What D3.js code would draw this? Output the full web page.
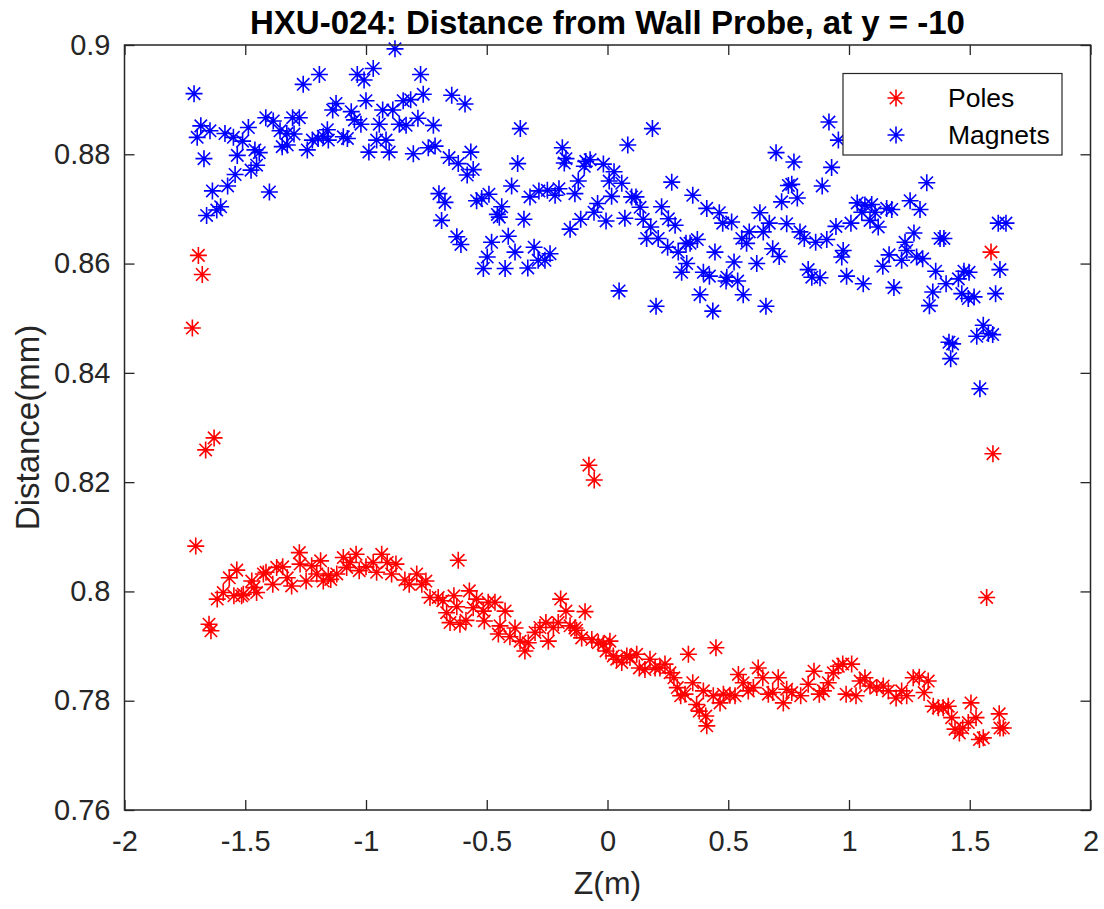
<!DOCTYPE html>
<html>
<head>
<meta charset="utf-8">
<script src="https://cdn.jsdelivr.net/npm/d3@7"></script>
<style>
  html, body { margin: 0; padding: 0; background: #fff; }
  svg { display: block; font-family: "Liberation Sans", Arial, Helvetica, sans-serif; }
</style>
</head>
<body>
<svg id="chart" width="1104" height="909"></svg>
<script>
// ---------------- data ----------------
const titleText = "HXU-024: Distance from Wall Probe, at y = -10";
const xLabelText = "Z(m)";
const yLabelText = "Distance(mm)";
const seriesNames = ["Poles", "Magnets"];

const xTicks = [-2, -1.5, -1, -0.5, 0, 0.5, 1, 1.5, 2];
const xTickLabels = ["-2", "-1.5", "-1", "-0.5", "0", "0.5", "1", "1.5", "2"];
const yTicks = [0.76, 0.78, 0.80, 0.82, 0.84, 0.86, 0.88, 0.90];
const yTickLabels = ["0.76", "0.78", "0.8", "0.82", "0.84", "0.86", "0.88", "0.9"];

const polesZ = [
  -1.719, -1.694, -1.678, -1.629, -1.664, -1.705, -1.650, -1.642, -0.077, -0.055, 1.588, 1.596, 1.570,
  -1.616, -1.591, -1.566, -1.535, -1.547, -1.515, -1.508, -1.473, -1.464, -1.453, -1.425, -1.414,
  -1.386, -1.370, -1.345, -1.326, -1.308, -1.276, -1.273, -1.248, -1.225, -1.204, -1.188, -1.177,
  -1.156, -1.146, -1.121, -1.094, -1.080, -1.066, -1.041, -1.028, -1.000, -0.970, -0.956, -0.935,
  -0.912, -0.894, -0.876, -0.839, -0.821, -0.790, -0.769, -0.752, -0.735, -0.701, -0.682, -0.666,
  -0.652, -0.636, -0.624, -0.618, -0.611, -0.586, -0.572, -0.556, -0.542, -0.514, -0.510, -0.494,
  -0.466, -0.445, -0.424, -0.452, -0.404, -0.383, -0.362, -0.342, -0.328, -0.300, -0.280, -0.255,
  -0.245, -0.224, -0.204, -0.194, -0.172, -0.155, -0.135, -0.128, -0.107, -0.093, -0.065, -0.038,
  -0.017, 0.010, -0.006, 0.024, 0.038, 0.059, 0.080, 0.093, 0.121, 0.132, 0.155, 0.176, 0.197,
  0.217, 0.238, 0.259, 0.275, 0.289, 0.303, 0.321, 0.335, 0.353, 0.369, 0.380, 0.397, 0.407, 0.411,
  0.449, 0.438, 0.466, 0.480, 0.507, 0.528, 0.542, 0.562, 0.583, 0.604, 0.624, 0.643, 0.666, 0.684,
  0.707, 0.728, 0.742, 0.763, 0.800, 0.831, 0.855, 0.877, 0.894, 0.914, 0.935, 0.956, 0.974, 0.988,
  1.011, 1.029, 1.046, 1.066, 1.087, 1.115, 1.142, 1.163, 1.195, 1.218, 1.239, 1.266, 1.291, 1.311,
  1.328, 1.349, 1.370, 1.390, 1.411, 1.425, 1.439, 1.457, 1.471, 1.494, 1.505, 1.526, 1.540, 1.556,
  1.622, 1.625, 1.639
];
const polesD = [
  0.8482, 0.8615, 0.8580, 0.8281, 0.8259, 0.8083, 0.7940, 0.7928, 0.8231, 0.8204, 0.8621, 0.8252, 0.7989,
  0.7986, 0.7998, 0.8025, 0.8039, 0.7992, 0.7992, 0.7995, 0.8019, 0.8007, 0.7998, 0.8032, 0.8035,
  0.8013, 0.8044, 0.8045, 0.8025, 0.8010, 0.8071, 0.8050, 0.8019, 0.8047, 0.8032, 0.8056, 0.8019,
  0.8029, 0.8022, 0.8032, 0.8062, 0.8044, 0.8053, 0.8068, 0.8038, 0.8045, 0.8053, 0.8035, 0.8068,
  0.8053, 0.8032, 0.8050, 0.8021, 0.8013, 0.8032, 0.8013, 0.8019, 0.7989, 0.7989, 0.7983, 0.7961,
  0.7943, 0.7992, 0.7972, 0.8057, 0.7940, 0.7947, 0.8001, 0.7970, 0.7986, 0.7964, 0.7946, 0.7980,
  0.7980, 0.7937, 0.7964, 0.7922, 0.7917, 0.7933, 0.7909, 0.7891, 0.7906, 0.7925, 0.7934, 0.7943,
  0.7909, 0.7934, 0.7943, 0.7986, 0.7964, 0.7937, 0.7933, 0.7929, 0.7915, 0.7963, 0.7912, 0.7906,
  0.7904, 0.7909, 0.7891, 0.7882, 0.7876, 0.7870, 0.7882, 0.7879, 0.7885, 0.7860, 0.7857, 0.7876, 0.7860,
  0.7860, 0.7867, 0.7851, 0.7842, 0.7824, 0.7809, 0.7812, 0.7885, 0.7833, 0.7793, 0.7781, 0.7818, 0.7772, 0.7754,
  0.7897, 0.7809, 0.7796, 0.7812, 0.7810, 0.7809, 0.7848, 0.7833, 0.7818, 0.7824, 0.7860, 0.7842, 0.7812, 0.7815,
  0.7842, 0.7796, 0.7821, 0.7815, 0.7809, 0.7830, 0.7854, 0.7812, 0.7818, 0.7833, 0.7851, 0.7863, 0.7867, 0.7812,
  0.7867, 0.7809, 0.7836, 0.7842, 0.7827, 0.7824, 0.7827, 0.7818, 0.7805, 0.7818, 0.7809, 0.7842, 0.7843, 0.7815,
  0.7836, 0.7790, 0.7787, 0.7787, 0.7790, 0.7769, 0.7748, 0.7741, 0.7750, 0.7760, 0.7796, 0.7769, 0.7729, 0.7732,
  0.7776, 0.7750, 0.7750
];

const magnetsZ = [
  -1.712, -1.684, -1.699, -1.646, -1.671, -1.636, -1.660, -1.618, -1.602, -1.573, -1.542, -1.584,
  -1.549, -1.533, -1.511, -1.487, -1.476, -1.453, -1.460, -1.442, -1.415, -1.400, -1.384, -1.356,
  -1.347, -1.326, -1.328, -1.304, -1.276, -1.298, -1.260, -1.243, -1.222, -1.193, -1.198, -1.177,
  -1.160, -1.156, -1.138, -1.124, -1.094, -1.077, -1.061, -1.048, -1.036, -1.021, -1.008, -1.000,
  -0.970, -0.988, -0.956, -0.945, -0.931, -0.917, -0.904, -0.889, -0.880, -0.862, -0.846, -0.834,
  -0.815, -0.804, -0.785, -0.774, -0.763, -0.742, -0.721, -0.714, -0.698, -0.673, -0.687, -0.656,
  -0.645, -0.624, -0.618, -0.590, -0.566, -0.556, -0.581, -0.361, -0.372, -0.397, -0.607, -0.542,
  -0.521, -0.491, -0.438, -0.456, -0.448, -0.480, -0.498, -0.514, -0.411, -0.383, -0.424, -0.346,
  -0.321, -0.284, -0.304, -0.330, -0.287, -0.259, -0.238, -0.249, -0.217, -0.201, -0.187, -0.172,
  -0.179, -0.135, -0.121, -0.155, -0.111, -0.090, -0.072, -0.096, -0.056, -0.041, -0.006, -0.017,
  0.007, 0.027, 0.017, 0.059, 0.072, 0.084, 0.100, 0.118, 0.135, 0.148, 0.162, 0.179, 0.186, 0.210,
  0.224, 0.249, 0.252, 0.266, 0.280, 0.293, 0.307, 0.328, 0.325, 0.342, 0.353, 0.372, 0.397, 0.411,
  0.422, 0.445, 0.463, 0.477, 0.494, 0.514, 0.524, 0.556, 0.576, 0.587, 0.618, 0.631, 0.645, 0.670,
  0.684, 0.711, 0.698, 0.721, 0.742, 0.749, 0.048, 0.201, 0.539, 0.383, 0.562, 0.436, 0.656, 0.491,
  0.917, 0.956, 0.772, 0.928, 0.763, 0.889, 0.786, 0.797, 0.815, 0.862, 0.908, 0.946, 1.008, 0.976,
  0.970, 0.831, 0.846, 0.880, 0.990, 1.059, 1.034, 1.066, 1.094, 1.053, 1.108, 1.087, 1.121, 1.156,
  1.177, 1.253, 1.294, 1.322, 1.232, 1.269, 1.239, 1.166, 1.140, 1.218, 1.280, 1.305, 1.359, 1.377,
  1.393, 1.402, 1.186, 1.347, 1.333, 1.453, 1.476, 1.497, 1.467, 1.494, 1.518, 1.607, 1.625, 1.618,
  1.650, 1.414, 1.429, 1.421, 1.529, 1.556, 1.577, 1.595, 1.542
];
const magnetsD = [
  0.8911, 0.8852, 0.8831, 0.8843, 0.8792, 0.8733, 0.8688, 0.8698, 0.8704, 0.8742, 0.8763, 0.8838,
  0.8831, 0.8798, 0.8824, 0.8849, 0.8771, 0.8780, 0.8808, 0.8803, 0.8867, 0.8731, 0.8861, 0.8843,
  0.8814, 0.8817, 0.8838, 0.8867, 0.8867, 0.8837, 0.8928, 0.8808, 0.8826, 0.8946, 0.8829, 0.8833,
  0.8845, 0.8826, 0.8881, 0.8893, 0.8832, 0.8829, 0.8878, 0.8863, 0.8946, 0.8855, 0.8936, 0.8898,
  0.8957, 0.8804, 0.8826, 0.8855, 0.8881, 0.8826, 0.8804, 0.8881, 0.8993, 0.8855, 0.8898, 0.8853,
  0.8900, 0.8801, 0.8866, 0.8946, 0.8910, 0.8812, 0.8853, 0.8815, 0.8728, 0.8712, 0.8679, 0.8794,
  0.8908, 0.8649, 0.8783, 0.8892, 0.8804, 0.8772, 0.8762, 0.8847, 0.8783, 0.8742, 0.8635, 0.8715,
  0.8719, 0.8727, 0.8704, 0.8690, 0.8685, 0.8639, 0.8612, 0.8591, 0.8650, 0.8621, 0.8591, 0.8681,
  0.8722, 0.8733, 0.8630, 0.8592, 0.8606, 0.8606, 0.8618, 0.8734, 0.8725, 0.8737, 0.8812, 0.8792,
  0.8784, 0.8728, 0.8751, 0.8663, 0.8681, 0.8787, 0.8790, 0.8778, 0.8694, 0.8710, 0.8678, 0.8782,
  0.8751, 0.8768, 0.8723, 0.8747, 0.8683, 0.8817, 0.8722, 0.8722, 0.8703, 0.8681, 0.8646, 0.8667, 0.8847, 0.8646,
  0.8704, 0.8630, 0.8682, 0.8749, 0.8670, 0.8621, 0.8584, 0.8600, 0.8637, 0.8637, 0.8725, 0.8644, 0.8584, 0.8701,
  0.8577, 0.8621, 0.8693, 0.8674, 0.8575, 0.8676, 0.8603, 0.8646, 0.8637, 0.8658, 0.8600, 0.8693, 0.8658, 0.8674,
  0.8627, 0.8613, 0.8803, 0.8713, 0.8673, 0.8743, 0.8550, 0.8522, 0.8568, 0.8543, 0.8543, 0.8513, 0.8522, 0.8568,
  0.8859, 0.8826, 0.8786, 0.8776, 0.8745, 0.8742, 0.8720, 0.8658, 0.8646, 0.8639, 0.8644, 0.8668, 0.8674, 0.8624,
  0.8612, 0.8589, 0.8575, 0.8574, 0.8577, 0.8563, 0.8711, 0.8707, 0.8708, 0.8694, 0.8694, 0.8679, 0.8667, 0.8701,
  0.8699, 0.8715, 0.8699, 0.8748, 0.8639, 0.8656, 0.8624, 0.8616, 0.8595, 0.8606, 0.8612, 0.8609, 0.8586, 0.8646,
  0.8646, 0.8563, 0.8556, 0.8548, 0.8523, 0.8572, 0.8586, 0.8584, 0.8545, 0.8536, 0.8539, 0.8545, 0.8589, 0.8674,
  0.8674, 0.8456, 0.8453, 0.8426, 0.8467, 0.8487, 0.8472, 0.8470, 0.8371
];

const colors = ["#ff0000", "#0000ff"];

// ---------------- chart ----------------
const svg = d3.select("#chart");
const W = 1104, H = 909;
const m = { left: 124.5, right: 1104 - 1090.5, top: 45, bottom: 909 - 810 };
const x = d3.scaleLinear().domain([-2, 2]).range([m.left, W - m.right]);
const y = d3.scaleLinear().domain([0.76, 0.9]).range([H - m.bottom, m.top]);
const axisColor = "#262626";
const tickFont = 29;

svg.append("rect").attr("width", W).attr("height", H).attr("fill", "#fff");

// data group
const gData = svg.append("g");
const R = 8.5, Dg = 6.2;
function star(cx, cy) {
  return `M${cx - R},${cy}H${cx + R}M${cx},${cy - R}V${cy + R}` +
         `M${cx - Dg},${cy - Dg}L${cx + Dg},${cy + Dg}M${cx - Dg},${cy + Dg}L${cx + Dg},${cy - Dg}`;
}
const series = [
  { name: seriesNames[0], z: polesZ, d: polesD, color: colors[0] },
  { name: seriesNames[1], z: magnetsZ, d: magnetsD, color: colors[1] }
];
series.forEach(s => {
  const pts = s.z.map((v, i) => [v, s.d[i]]);
  gData.append("g")
    .selectAll("path").data(pts).join("path")
    .attr("d", p => star(x(p[0]), y(p[1])))
    .attr("fill", "none")
    .attr("stroke", s.color)
    .attr("stroke-width", 1.6);
});

// axes (ticks inside on all four sides)
function styleAxis(g) {
  g.select(".domain").remove();
  g.selectAll(".tick line").attr("stroke", axisColor).attr("stroke-width", 1.3);
  g.selectAll("text").attr("fill", axisColor).attr("font-size", tickFont)
    .attr("font-family", '"Liberation Sans", Arial, sans-serif');
}
svg.append("g").attr("transform", `translate(0,${y(0.76)})`)
  .call(d3.axisBottom(x).tickValues(xTicks).tickFormat((d, i) => xTickLabels[i]).tickSize(-10).tickPadding(20))
  .call(styleAxis);
svg.append("g").attr("transform", `translate(0,${y(0.9)})`)
  .call(d3.axisTop(x).tickValues(xTicks).tickFormat("").tickSize(-10))
  .call(styleAxis);
svg.append("g").attr("transform", `translate(${x(-2)},0)`)
  .call(d3.axisLeft(y).tickValues(yTicks).tickFormat((d, i) => yTickLabels[i]).tickSize(-10).tickPadding(14))
  .call(styleAxis);
svg.append("g").attr("transform", `translate(${x(2)},0)`)
  .call(d3.axisRight(y).tickValues(yTicks).tickFormat("").tickSize(-10))
  .call(styleAxis);

svg.append("rect")
  .attr("x", x(-2)).attr("y", y(0.9))
  .attr("width", x(2) - x(-2)).attr("height", y(0.76) - y(0.9))
  .attr("fill", "none").attr("stroke", axisColor).attr("stroke-width", 1.5);

// title and labels
svg.append("text").attr("x", (x(-2) + x(2)) / 2).attr("y", 34)
  .attr("text-anchor", "middle").attr("font-size", 33).attr("font-weight", "bold")
  .attr("fill", "#000").text(titleText);
svg.append("text").attr("x", (x(-2) + x(2)) / 2).attr("y", 894)
  .attr("text-anchor", "middle").attr("font-size", 32).attr("fill", axisColor).text(xLabelText);
svg.append("text")
  .attr("transform", `translate(39,${(y(0.76) + y(0.9)) / 2}) rotate(-90)`)
  .attr("text-anchor", "middle").attr("font-size", 33).attr("fill", axisColor).text(yLabelText);

// legend
const lg = svg.append("g");
lg.append("rect").attr("x", 843).attr("y", 73.5).attr("width", 219).attr("height", 81.5)
  .attr("fill", "#fff").attr("stroke", axisColor).attr("stroke-width", 1.2);
series.forEach((s, i) => {
  const cy = 98 + i * 37;
  lg.append("path").attr("d", star(896, cy)).attr("fill", "none")
    .attr("stroke", s.color).attr("stroke-width", 1.6);
  lg.append("text").attr("x", 948).attr("y", cy).attr("dy", "0.35em")
    .attr("font-size", 26.5).attr("fill", "#000").text(s.name);
});
</script>
</body>
</html>
